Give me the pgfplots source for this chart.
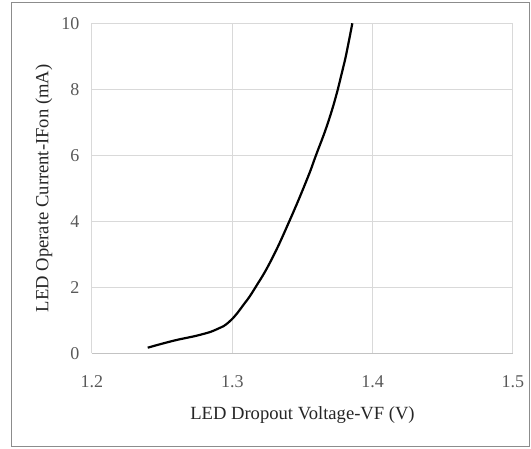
\documentclass[border=0pt]{standalone}
\usepackage{fontspec}
\setmainfont{Liberation Serif}
\usepackage{pgfplots}
\pgfplotsset{compat=1.18}
\definecolor{gridgray}{RGB}{217,217,217}
\definecolor{ticktext}{RGB}{89,89,89}
\definecolor{framegray}{RGB}{140,140,140}

\begin{document}
\begin{tikzpicture}[x=1pt,y=1pt]
\useasboundingbox (-92,-94.7) rectangle (439,353.3);
\draw[framegray, line width=1.2pt] (-80.3,-93.4) rectangle (437.5,350.8);
\begin{axis}[
    at={(0,0)}, anchor=origin,
    scale only axis,
    width=421pt, height=330pt,
    xmin=1.2, xmax=1.5,
    ymin=0, ymax=10,
    xtick={1.2,1.3,1.4,1.5},
    ytick={0,2,4,6,8,10},
    xticklabels={1.2,1.3,1.4,1.5},
    major tick length=0pt,
    grid=major,
    grid style={gridgray, line width=1pt},
    axis line style={draw=none},
    tick label style={font=\fontsize{18}{20}\selectfont, text=ticktext, inner sep=0pt},
    /pgf/number format/assume math mode=true,
    xticklabel style={anchor=center, yshift=-28.4pt},
    yticklabel style={anchor=east, xshift=-12.4pt},
    xlabel={LED Dropout Voltage-VF (V)},
    ylabel={LED Operate Current-IFon (mA)},
    label style={font=\fontsize{18.6}{20}\selectfont, text=black!85, inner sep=0pt},
    xlabel style={at={(axis description cs:0.5,-0.187)}, anchor=center},
    ylabel style={at={(axis description cs:-0.114,0.5)}, anchor=center},
    clip=false,
]
\draw[gridgray!75!gray, line width=1pt] (axis cs:1.2,0) -- (axis cs:1.5,0);
\addplot[black, line width=2.2pt, smooth, tension=0.8] coordinates {
    (1.2397,0.17)
    (1.258,0.38)
    (1.277,0.56)
    (1.289,0.73)
    (1.2984,0.98)
    (1.3085,1.50)
    (1.3165,2.00)
    (1.3278,2.83)
    (1.3406,4.00)
    (1.3530,5.25)
    (1.3596,6.00)
    (1.3680,6.97)
    (1.3752,8.00)
    (1.3803,8.89)
    (1.3855,10.0)
};
\end{axis}
\end{tikzpicture}
\end{document}
